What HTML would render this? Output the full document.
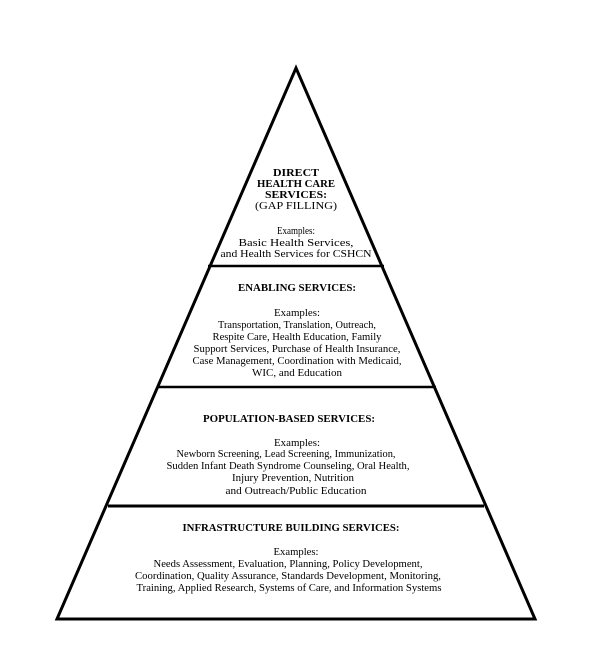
<!DOCTYPE html>
<html><head><meta charset="utf-8"><style>
html,body{margin:0;padding:0;background:#fff;width:600px;height:645px;overflow:hidden}
text{font-family:"Liberation Serif",serif;font-size:11px;fill:#000}
.b{font-weight:bold;font-size:10.5px}
</style></head><body>
<svg width="600" height="645" viewBox="0 0 600 645">
<polygon points="296,68 535,619 57,619" fill="none" stroke="#000" stroke-width="3" stroke-linejoin="miter"/>
<line x1="208" y1="266" x2="384" y2="266" stroke="#000" stroke-width="2.5"/>
<line x1="157" y1="387" x2="436" y2="387" stroke="#000" stroke-width="2.5"/>
<line x1="108" y1="506" x2="484" y2="506" stroke="#000" stroke-width="3"/>
<g text-anchor="middle" lengthAdjust="spacingAndGlyphs">
<text class="b" x="296" y="176" textLength="46" lengthAdjust="spacingAndGlyphs">DIRECT</text>
<text class="b" x="296" y="187" textLength="78" lengthAdjust="spacingAndGlyphs">HEALTH CARE</text>
<text class="b" x="296" y="198" textLength="62" lengthAdjust="spacingAndGlyphs">SERVICES:</text>
<text x="296" y="209" textLength="82" lengthAdjust="spacingAndGlyphs">(GAP FILLING)</text>
<text x="296" y="234" textLength="38" lengthAdjust="spacingAndGlyphs">Examples:</text>
<text x="296" y="246" textLength="115" lengthAdjust="spacingAndGlyphs">Basic Health Services,</text>
<text x="296" y="257" textLength="151" lengthAdjust="spacingAndGlyphs">and Health Services for CSHCN</text>

<text class="b" x="297" y="291" textLength="118" lengthAdjust="spacingAndGlyphs">ENABLING SERVICES:</text>
<text x="297" y="316" textLength="46" lengthAdjust="spacingAndGlyphs">Examples:</text>
<text x="297" y="328" textLength="158" lengthAdjust="spacingAndGlyphs">Transportation, Translation, Outreach,</text>
<text x="297" y="340" textLength="169" lengthAdjust="spacingAndGlyphs">Respite Care, Health Education, Family</text>
<text x="297" y="352" textLength="207" lengthAdjust="spacingAndGlyphs">Support Services, Purchase of Health Insurance,</text>
<text x="297" y="364" textLength="209" lengthAdjust="spacingAndGlyphs">Case Management, Coordination with Medicaid,</text>
<text x="297" y="376" textLength="90" lengthAdjust="spacingAndGlyphs">WIC, and Education</text>

<text class="b" x="289" y="422" textLength="172" lengthAdjust="spacingAndGlyphs">POPULATION-BASED SERVICES:</text>
<text x="297" y="446" textLength="46" lengthAdjust="spacingAndGlyphs">Examples:</text>
<text x="286" y="457" textLength="219" lengthAdjust="spacingAndGlyphs">Newborn Screening, Lead Screening, Immunization,</text>
<text x="288" y="469" textLength="243" lengthAdjust="spacingAndGlyphs">Sudden Infant Death Syndrome Counseling, Oral Health,</text>
<text x="293" y="481" textLength="122" lengthAdjust="spacingAndGlyphs">Injury Prevention, Nutrition</text>
<text x="296" y="494" textLength="141" lengthAdjust="spacingAndGlyphs">and Outreach/Public Education</text>

<text class="b" x="291" y="531" textLength="217" lengthAdjust="spacingAndGlyphs">INFRASTRUCTURE BUILDING SERVICES:</text>
<text x="296" y="555" textLength="45" lengthAdjust="spacingAndGlyphs">Examples:</text>
<text x="288" y="567" textLength="269" lengthAdjust="spacingAndGlyphs">Needs Assessment, Evaluation, Planning, Policy Development,</text>
<text x="288" y="579" textLength="306" lengthAdjust="spacingAndGlyphs">Coordination, Quality Assurance, Standards Development, Monitoring,</text>
<text x="289" y="591" textLength="305" lengthAdjust="spacingAndGlyphs">Training, Applied Research, Systems of Care, and Information Systems</text>
</g>
</svg>
</body></html>
